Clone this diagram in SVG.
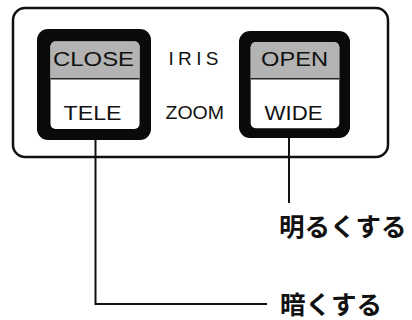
<svg xmlns="http://www.w3.org/2000/svg" width="412" height="320" viewBox="0 0 412 320">
<style>
.panel{fill:#fff;stroke:#111;stroke-width:2.5}
.btn{fill:#0a0a0a}
.face{fill:#fff}
.top{fill:#b3b3b3}
.div{stroke:#222;stroke-width:1.5}
.lbl{font-family:"Liberation Sans",Arial,sans-serif;font-size:20.5px;fill:#111}
.mid{font-family:"Liberation Sans",Arial,sans-serif;font-size:19px;fill:#111}
.jp{font-family:"Noto Sans CJK JP","Noto Sans CJK SC",sans-serif;font-size:25.5px;font-weight:bold;fill:#111}
.wire{fill:none;stroke:#111;stroke-width:2}
</style>
<rect width="412" height="320" fill="#fff"/>
<g id="panel">
<rect class="panel" x="13" y="8" width="375" height="149" rx="12"/>
<text class="mid" x="168.5" y="64.5" textLength="50" lengthAdjust="spacing">IRIS</text>
<text class="mid" x="165.5" y="119" textLength="58.5" lengthAdjust="spacingAndGlyphs">ZOOM</text>
</g>
<g id="btn-close-tele">
<rect class="btn" x="37" y="29" width="114" height="111" rx="11"/>
<rect class="face" x="50.5" y="41.5" width="89" height="87.5" rx="5"/>
<path class="top" d="M55.5 41.5 H134.5 A5 5 0 0 1 139.5 46.5 V78.5 H50.5 V46.5 A5 5 0 0 1 55.5 41.5 Z"/>
<line class="div" x1="50.5" y1="78.8" x2="139.5" y2="78.8"/>
<text class="lbl" x="53" y="65.5" textLength="81" lengthAdjust="spacingAndGlyphs">CLOSE</text>
<text class="lbl" x="63.5" y="119.5" textLength="58" lengthAdjust="spacingAndGlyphs">TELE</text>
</g>
<g id="btn-open-wide">
<rect class="btn" x="239" y="31" width="111" height="107" rx="11"/>
<rect class="face" x="250.7" y="42.3" width="88.6" height="86" rx="5"/>
<path class="top" d="M255.7 42.3 H334.3 A5 5 0 0 1 339.3 47.3 V78.5 H250.7 V47.3 A5 5 0 0 1 255.7 42.3 Z"/>
<line class="div" x1="250.7" y1="78.8" x2="339.3" y2="78.8"/>
<text class="lbl" x="261" y="65.5" textLength="67" lengthAdjust="spacingAndGlyphs">OPEN</text>
<text class="lbl" x="264.5" y="120" textLength="58" lengthAdjust="spacingAndGlyphs">WIDE</text>
</g>
<g id="connectors">
<polyline class="wire" points="95.5,140 95.5,304 267,304"/>
<line class="wire" x1="289" y1="138" x2="289" y2="203"/>
</g>
<g id="label-bright">
<text class="jp" x="279" y="235.5">明るくする</text>
</g>
<g id="label-dark">
<text class="jp" x="280" y="314">暗くする</text>
</g>
</svg>
